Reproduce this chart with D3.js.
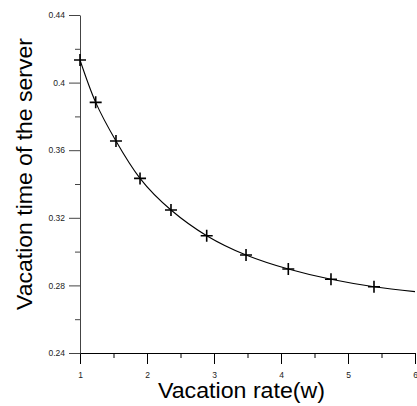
<!DOCTYPE html>
<html lang="en">
<head>
    <meta charset="UTF-8">
    <title>Vacation time of the server</title>
    <script src="https://d3js.org/d3.v7.min.js"></script>
    <style>
        body { margin: 0; background: #fff; }
        text { font-family: "Liberation Sans", Arial, sans-serif; }
    </style>
</head>
<body>
    <svg id="chart" width="417" height="406"></svg>

    <script>
        // Marker points
        const rateW = [1.0, 1.234, 1.537, 1.896, 2.358, 2.891, 3.478, 4.109, 4.746, 5.388];
        const vacTime = [0.4134, 0.3883, 0.3654, 0.3433, 0.3246, 0.3094, 0.2980, 0.2897, 0.2836, 0.2792];
        // curve keeps going past the last marker to the end of the axis
        const curveEndW = 6;
        const curveEndT = 0.2763;

        const xTicks = [1, 2, 3, 4, 5, 6];
        const xMinor = [1.5, 2.5, 3.5, 4.5, 5.5];
        const yTicks = [0.24, 0.28, 0.32, 0.36, 0.4, 0.44];
        const yMinor = [0.26, 0.30, 0.34, 0.38, 0.42];

        const svg = d3.select('#chart');
        const margin = { top: 15, right: 2, bottom: 53, left: 80 };
        const width = +svg.attr('width');
        const height = +svg.attr('height');

        const x = d3.scaleLinear()
            .domain([1, 6])
            .range([margin.left, width - margin.right]);

        const y = d3.scaleLinear()
            .domain([0.24, 0.44])
            .range([height - margin.bottom, margin.top]);

        // minor ticks first, so the major axis draws on top
        svg.append('g')
            .attr('transform', `translate(0,${height - margin.bottom})`)
            .call(d3.axisBottom(x).tickValues(xMinor).tickSize(5).tickFormat(''))
            .call(g => g.select('.domain').remove());

        svg.append('g')
            .attr('transform', `translate(${margin.left},0)`)
            .call(d3.axisLeft(y).tickValues(yMinor).tickSize(5).tickFormat(''))
            .call(g => g.select('.domain').remove())
            .selectAll('line').attr('stroke', '#444');

        // x axis
        const xAxis = svg.append('g')
            .attr('transform', `translate(0,${height - margin.bottom})`)
            .call(d3.axisBottom(x).tickValues(xTicks).tickSize(11).tickSizeOuter(0).tickPadding(8).tickFormat(d3.format('d')));
        xAxis.selectAll('text').attr('font-size', 8.5).attr('fill', '#222');

        // y axis
        const yAxis = svg.append('g')
            .attr('transform', `translate(${margin.left},0)`)
            .call(d3.axisLeft(y).tickValues(yTicks).tickSize(11).tickSizeOuter(0).tickPadding(4).tickFormat(d => d3.format('')(+d.toFixed(2))));
        yAxis.select('.domain').attr('stroke', '#444');
        yAxis.selectAll('line').attr('stroke', '#444');
        yAxis.selectAll('text').attr('font-size', 8.5).attr('fill', '#222');

        // fitted curve through the markers
        const curvePts = rateW.map((w, i) => [w, vacTime[i]]).concat([[curveEndW, curveEndT]]);
        const line = d3.line()
            .x(d => x(d[0]))
            .y(d => y(d[1]))
            .curve(d3.curveNatural);

        svg.append('path')
            .datum(curvePts)
            .attr('fill', 'none')
            .attr('stroke', '#000')
            .attr('stroke-width', 1.1)
            .attr('d', line);

        // plus markers
        svg.append('g')
            .selectAll('path')
            .data(rateW.map((w, i) => [w, vacTime[i]]))
            .enter()
            .append('path')
            .attr('d', d => {
                const cx = x(d[0]), cy = y(d[1]), r = 6;
                return `M${cx - r},${cy}H${cx + r}M${cx},${cy - r}V${cy + r}`;
            })
            .attr('fill', 'none')
            .attr('stroke', '#000')
            .attr('stroke-width', 1.6);

        // axis titles
        svg.append('text')
            .attr('x', 241.5)
            .attr('y', 398)
            .attr('text-anchor', 'middle')
            .attr('font-size', 21.5)
            .attr('textLength', 167)
            .attr('lengthAdjust', 'spacingAndGlyphs')
            .text('Vacation rate(w)');

        svg.append('text')
            .attr('transform', 'translate(32,174) rotate(-90)')
            .attr('text-anchor', 'middle')
            .attr('font-size', 21.5)
            .attr('textLength', 272)
            .attr('lengthAdjust', 'spacingAndGlyphs')
            .text('Vacation time of the server');
    </script>
</body>
</html>
